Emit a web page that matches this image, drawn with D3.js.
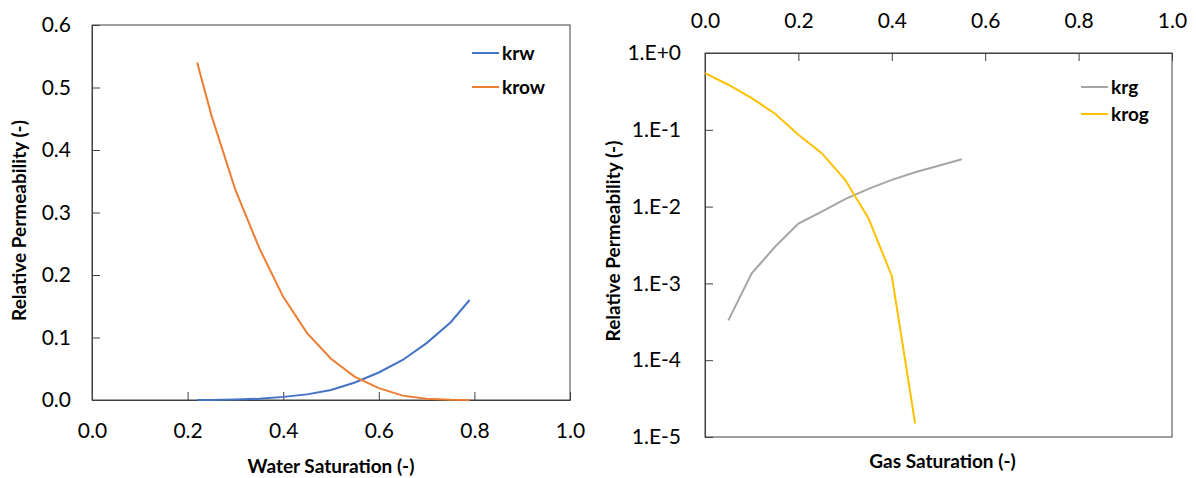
<!DOCTYPE html>
<html>
<head>
<meta charset="utf-8">
<script src="https://cdn.jsdelivr.net/npm/d3@7"></script>
<style>
  html, body { margin: 0; padding: 0; background: #fff; }
  svg { display: block; }
  text { font-family: Lato, "Open Sans", sans-serif; fill: #000; }
</style>
</head>
<body>
<svg id="chart" width="1196" height="478"></svg>
<script>
// Water-oil relative permeability table
const swValues   = [0.22, 0.25, 0.30, 0.35, 0.40, 0.45, 0.50, 0.55, 0.60, 0.65, 0.70, 0.75, 0.79];
const krwValues  = [0, 0.0001, 0.0008, 0.002, 0.005, 0.009, 0.016, 0.028, 0.044, 0.064, 0.091, 0.124, 0.16];
const krowValues = [0.54, 0.455, 0.336, 0.243, 0.165, 0.107, 0.066, 0.037, 0.019, 0.007, 0.002, 0.0003, 0];

// Gas-oil relative permeability table
const sgKrg     = [0.05, 0.10, 0.15, 0.20, 0.25, 0.30, 0.35, 0.40, 0.45, 0.50, 0.55];
const krgValues = [3.3e-4, 1.35e-3, 3.0e-3, 6.0e-3, 8.6e-3, 0.0125, 0.017, 0.0223, 0.028, 0.034, 0.0414];
const sgKrog     = [0.0, 0.05, 0.10, 0.15, 0.20, 0.25, 0.30, 0.35, 0.40, 0.45];
const krogValues = [0.548, 0.386, 0.259, 0.162, 0.086, 0.0497, 0.0223, 0.00705, 0.00125, 1.5e-5];

// Tick labels
const satTicks     = [0, 0.2, 0.4, 0.6, 0.8, 1.0];
const linKrTicks   = [0, 0.1, 0.2, 0.3, 0.4, 0.5, 0.6];
const logKrTicks   = [1, 1e-1, 1e-2, 1e-3, 1e-4, 1e-5];
const logKrLabels  = ["1.E+0", "1.E-1", "1.E-2", "1.E-3", "1.E-4", "1.E-5"];

const colors = { krw: "#4472C4", krow: "#ED7D31", krg: "#A5A5A5", krog: "#FFC000" };
const axisColor = "#404040";
const tickFont = 21;
const titleFont = 19;

const svg = d3.select("#chart");

function drawLegend(g, x, y, gap, items) {
  items.forEach((it, i) => {
    const yy = y + i * gap;
    g.append("line").attr("x1", x).attr("x2", x + 27).attr("y1", yy).attr("y2", yy)
      .attr("stroke", it.color).attr("stroke-width", 2);
    g.append("text").attr("x", x + 30).attr("y", yy).attr("dy", "0.35em")
      .attr("font-size", 19).attr("font-weight", "bold").text(it.name);
  });
}

// ---------- Water-oil panel ----------
{
  const L = 92, R = 570, T = 25, B = 400;
  const x = d3.scaleLinear().domain([0, 1]).range([L, R]);
  const y = d3.scaleLinear().domain([0, 0.6]).range([B, T]);
  const g = svg.append("g");

  g.append("rect").attr("x", L).attr("y", T).attr("width", R - L).attr("height", B - T)
    .attr("fill", "none").attr("stroke", axisColor).attr("stroke-width", 1);

  const xAxis = d3.axisBottom(x).tickValues(satTicks).tickSize(-8).tickPadding(22)
    .tickFormat(d3.format(".1f"));
  const gx = g.append("g").attr("transform", `translate(0,${B})`).call(xAxis);
  const yAxis = d3.axisLeft(y).tickValues(linKrTicks).tickSize(-8).tickPadding(22)
    .tickFormat(d3.format(".1f"));
  const gy = g.append("g").attr("transform", `translate(${L},0)`).call(yAxis);
  [gx, gy].forEach(a => {
    a.select(".domain").attr("stroke", axisColor);
    a.selectAll(".tick line").attr("stroke", axisColor);
    a.selectAll(".tick text").attr("font-size", tickFont).attr("font-family", "Lato, sans-serif").attr("fill", "#000");
  });
  gx.selectAll(".tick text").attr("dy", "0.35em").attr("y", 31);
  gy.selectAll(".tick text").attr("x", -21);

  const line = (xs, ys) => d3.line().x((d, i) => x(xs[i])).y(d => y(d))(ys);
  g.append("path").attr("d", line(swValues, krwValues)).attr("fill", "none")
    .attr("stroke", colors.krw).attr("stroke-width", 2);
  g.append("path").attr("d", line(swValues, krowValues)).attr("fill", "none")
    .attr("stroke", colors.krow).attr("stroke-width", 2);

  g.append("text").attr("x", (L + R) / 2).attr("y", 466).attr("dy", "0.35em")
    .attr("text-anchor", "middle").attr("font-size", titleFont).attr("font-weight", "bold")
    .text("Water Saturation (-)");
  g.append("text").attr("transform", `translate(19,${(T + B) / 2 + 8}) rotate(-90)`)
    .attr("dy", "0.35em").attr("text-anchor", "middle").attr("font-size", titleFont).attr("font-weight", "bold")
    .text("Relative Permeability (-)");

  drawLegend(g, 472, 53, 34, [{ name: "krw", color: colors.krw }, { name: "krow", color: colors.krow }]);
}

// ---------- Gas-oil panel ----------
{
  const L = 705, R = 1172, T = 53, B = 437;
  const x = d3.scaleLinear().domain([0, 1]).range([L, R]);
  const y = d3.scaleLog().domain([1e-5, 1]).range([B, T]);
  const g = svg.append("g");

  g.append("rect").attr("x", L).attr("y", T).attr("width", R - L).attr("height", B - T)
    .attr("fill", "none").attr("stroke", axisColor).attr("stroke-width", 1);

  const xAxis = d3.axisTop(x).tickValues(satTicks).tickSize(-8).tickPadding(22)
    .tickFormat(d3.format(".1f"));
  const gx = g.append("g").attr("transform", `translate(0,${T})`).call(xAxis);
  const yAxis = d3.axisLeft(y).tickValues(logKrTicks).tickSize(-8).tickPadding(24)
    .tickFormat((d, i) => logKrLabels[i]);
  const gy = g.append("g").attr("transform", `translate(${L},0)`).call(yAxis);
  [gx, gy].forEach(a => {
    a.select(".domain").attr("stroke", axisColor);
    a.selectAll(".tick line").attr("stroke", axisColor);
    a.selectAll(".tick text").attr("font-size", tickFont).attr("font-family", "Lato, sans-serif").attr("fill", "#000");
  });
  gx.selectAll(".tick text").attr("dy", "0.35em").attr("y", -32);
  gy.selectAll(".tick text").attr("x", -24);

  const line = (xs, ys) => d3.line().x((d, i) => x(xs[i])).y(d => y(d))(ys);
  g.append("path").attr("d", line(sgKrg, krgValues)).attr("fill", "none")
    .attr("stroke", colors.krg).attr("stroke-width", 2);
  g.append("path").attr("d", line(sgKrog, krogValues)).attr("fill", "none")
    .attr("stroke", colors.krog).attr("stroke-width", 2);

  g.append("text").attr("x", (L + R) / 2 + 4).attr("y", 461).attr("dy", "0.35em")
    .attr("text-anchor", "middle").attr("font-size", titleFont).attr("font-weight", "bold")
    .text("Gas Saturation (-)");
  g.append("text").attr("transform", `translate(613,${(T + B) / 2 - 4}) rotate(-90)`)
    .attr("dy", "0.35em").attr("text-anchor", "middle").attr("font-size", titleFont).attr("font-weight", "bold")
    .text("Relative Permeability (-)");

  drawLegend(g, 1081, 87, 27, [{ name: "krg", color: colors.krg }, { name: "krog", color: colors.krog }]);
}
</script>
</body>
</html>
